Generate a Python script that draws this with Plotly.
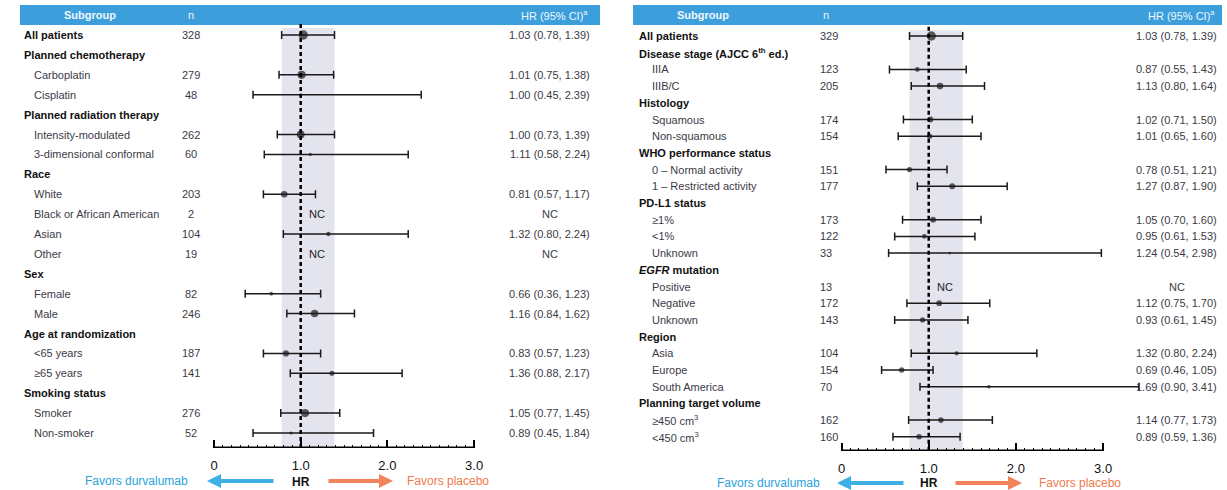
import plotly.graph_objects as go

W, H = 1227, 490

# ---------------- Left panel data ----------------
l_labels = ["All patients", "Planned chemotherapy", "Carboplatin", "Cisplatin",
            "Planned radiation therapy", "Intensity-modulated", "3-dimensional conformal",
            "Race", "White", "Black or African American", "Asian", "Other",
            "Sex", "Female", "Male",
            "Age at randomization", "&lt;65 years", "≥65 years",
            "Smoking status", "Smoker", "Non-smoker"]
l_group = [0, 1, 0, 0, 1, 0, 0, 1, 0, 0, 0, 0, 1, 0, 0, 1, 0, 0, 1, 0, 0]
l_n = [328, None, 279, 48, None, 262, 60, None, 203, 2, 104, 19, None, 82, 246,
       None, 187, 141, None, 276, 52]
l_hr = [1.03, None, 1.01, 1.00, None, 1.00, 1.11, None, 0.81, None, 1.32, None,
        None, 0.66, 1.16, None, 0.83, 1.36, None, 1.05, 0.89]
l_lo = [0.78, None, 0.75, 0.45, None, 0.73, 0.58, None, 0.57, None, 0.80, None,
        None, 0.36, 0.84, None, 0.57, 0.88, None, 0.77, 0.45]
l_hi = [1.39, None, 1.38, 2.39, None, 1.39, 2.24, None, 1.17, None, 2.24, None,
        None, 1.23, 1.62, None, 1.23, 2.17, None, 1.45, 1.84]

# ---------------- Right panel data ----------------
r_labels = ["All patients", "Disease stage (AJCC 6<sup>th</sup> ed.)", "IIIA", "IIIB/C",
            "Histology", "Squamous", "Non-squamous",
            "WHO performance status", "0 – Normal activity", "1 – Restricted activity",
            "PD-L1 status", "≥1%", "&lt;1%", "Unknown",
            "<i>EGFR</i> mutation", "Positive", "Negative", "Unknown",
            "Region", "Asia", "Europe", "South America",
            "Planning target volume", "≥450 cm<sup>3</sup>", "&lt;450 cm<sup>3</sup>"]
r_group = [0, 1, 0, 0, 1, 0, 0, 1, 0, 0, 1, 0, 0, 0, 1, 0, 0, 0, 1, 0, 0, 0, 1, 0, 0]
r_n = [329, None, 123, 205, None, 174, 154, None, 151, 177, None, 173, 122, 33,
       None, 13, 172, 143, None, 104, 154, 70, None, 162, 160]
r_hr = [1.03, None, 0.87, 1.13, None, 1.02, 1.01, None, 0.78, 1.27, None, 1.05, 0.95,
        1.24, None, None, 1.12, 0.93, None, 1.32, 0.69, 1.69, None, 1.14, 0.89]
r_lo = [0.78, None, 0.55, 0.80, None, 0.71, 0.65, None, 0.51, 0.87, None, 0.70, 0.61,
        0.54, None, None, 0.75, 0.61, None, 0.80, 0.46, 0.90, None, 0.77, 0.59]
r_hi = [1.39, None, 1.43, 1.64, None, 1.50, 1.60, None, 1.21, 1.90, None, 1.60, 1.53,
        2.98, None, None, 1.70, 1.45, None, 2.24, 1.05, 3.41, None, 1.73, 1.36]

tick_vals = [0, 1, 2, 3]
tick_text = ["0", "1.0", "2.0", "3.0"]

HEADER_BLUE = "#3c9fdc"
ARROW_BLUE = "#3fb0e6"
ARROW_ORANGE = "#f2845c"
BAND = "#e4e4ef"
ITEM_COLOR = "#3c3a46"
FONT = "Liberation Sans, Arial, sans-serif"


def px(x):
    return x / W


def py(y):
    return 1 - y / H


fig = go.Figure()
annotations = []
shapes = []

panels = [
    dict(labels=l_labels, group=l_group, n=l_n, hr=l_hr, lo=l_lo, hi=l_hi,
         xa="x", ya="y", left=20, right=600, lab_x=22, ind_x=32,
         n_x=191, n_anchor="center", hr_x=592, nc_x=1.19,
         row0=35, step=19.9, axis_y=448,
         xr=[-0.5, 3.5], x0px=214, unit=86.7,
         fav_l=190, arrow_l=(275, 207), hr_lbl=301, arrow_r=(327, 393), fav_r=405,
         arrow_y=481, hr_y=482),
    dict(labels=r_labels, group=r_group, n=r_n, hr=r_hr, lo=r_lo, hi=r_hi,
         xa="x2", ya="y2", left=633, right=1222, lab_x=637, ind_x=650,
         n_x=818, n_anchor="left", hr_x=1219, nc_x=1.19,
         row0=36, step=16.7, axis_y=451,
         xr=[-0.5, 3.6], x0px=841.5, unit=87.2,
         fav_l=822, arrow_l=(905, 837), hr_lbl=929, arrow_r=(954, 1022), fav_r=1037,
         arrow_y=483, hr_y=483),
]

layout_axes = {}
for k, p in enumerate(panels):
    sfx = "" if k == 0 else "2"
    nrow = len(p["labels"])
    rows = list(range(nrow))

    # axis geometry: map data range to pixel domain
    d0 = p["x0px"] + p["unit"] * p["xr"][0]
    d1 = p["x0px"] + p["unit"] * p["xr"][1]
    y_bot = (p["axis_y"] - p["row0"]) / p["step"]
    y_top = -p["row0"] / p["step"]

    layout_axes["xaxis" + sfx] = dict(
        domain=[px(d0), px(d1)], range=p["xr"], anchor="y" + sfx,
        showgrid=False, zeroline=False, showline=False,
        tickvals=tick_vals, ticktext=tick_text, ticks="inside", ticklen=8,
        tickwidth=2, tickcolor="black", ticklabelstandoff=8,
        tickfont=dict(family=FONT, size=13, color="#111"),
        minor=dict(tickvals=[i / 10 for i in range(1, 30) if i % 10],
                   ticks="inside", ticklen=3, tickwidth=1, tickcolor="black"),
    )
    layout_axes["yaxis" + sfx] = dict(
        domain=[1 - p["axis_y"] / H, 1], range=[y_bot, y_top], anchor="x" + sfx,
        visible=False, showgrid=False, zeroline=False,
    )

    # header bar
    shapes.append(dict(type="rect", xref="paper", yref="paper",
                       x0=px(p["left"]), x1=px(p["right"]), y0=py(25), y1=py(5),
                       fillcolor=HEADER_BLUE, line=dict(width=0), layer="below"))
    hdr_font = dict(family=FONT, size=11, color="#eef7fd")
    annotations += [
        dict(text="<b>Subgroup</b>", x=px(p["left"] + 70), y=py(15), xref="paper", yref="paper",
             showarrow=False, xanchor="center", yanchor="middle", font=hdr_font),
        dict(text="n", x=px(p["n_x"] + (0 if k == 0 else 8)), y=py(15), xref="paper", yref="paper",
             showarrow=False, xanchor="center", yanchor="middle", font=hdr_font),
        dict(text="HR (95% CI)<sup>a</sup>", x=px(p["hr_x"] - 2), y=py(15), xref="paper",
             yref="paper", showarrow=False, xanchor="right", yanchor="middle", font=hdr_font),
    ]

    # overall CI band and reference line
    shapes.append(dict(type="rect", xref=p["xa"], yref=p["ya"],
                       x0=p["lo"][0], x1=p["hi"][0], y0=-0.35, y1=y_bot,
                       fillcolor=BAND, line=dict(width=0), layer="below"))
    shapes.append(dict(type="line", xref=p["xa"], yref=p["ya"], x0=1, x1=1,
                       y0=-0.55, y1=y_bot,
                       line=dict(color="black", width=2.5, dash="4px,3px")))
    # axis baseline from 0 to 3
    shapes.append(dict(type="line", xref=p["xa"], yref=p["ya"], x0=0, x1=3,
                       y0=y_bot, y1=y_bot, line=dict(color="black", width=3)))

    # row texts
    for i in rows:
        lab = p["labels"][i]
        bold = p["group"][i] == 1 or i == 0
        annotations.append(dict(
            text=f"<b>{lab}</b>" if bold else lab,
            x=px(p["lab_x"] if bold else p["ind_x"]), y=i, xref="paper", yref=p["ya"],
            showarrow=False, xanchor="left", yanchor="middle",
            font=dict(family=FONT, size=11, color="#111" if bold else ITEM_COLOR)))
        if p["n"][i] is not None:
            annotations.append(dict(
                text=str(p["n"][i]), x=px(p["n_x"]), y=i, xref="paper", yref=p["ya"],
                showarrow=False, xanchor=p["n_anchor"], yanchor="middle",
                font=dict(family=FONT, size=11, color=ITEM_COLOR)))
            if p["hr"][i] is None:
                annotations.append(dict(
                    text="NC", x=p["nc_x"], y=i, xref=p["xa"], yref=p["ya"],
                    showarrow=False, xanchor="center", yanchor="middle",
                    font=dict(family=FONT, size=11, color="#222")))
                annotations.append(dict(
                    text="NC", x=px(p["hr_x"] - 42), y=i, xref="paper", yref=p["ya"],
                    showarrow=False, xanchor="center", yanchor="middle",
                    font=dict(family=FONT, size=11, color=ITEM_COLOR)))
            else:
                annotations.append(dict(
                    text=f"{p['hr'][i]:.2f} ({p['lo'][i]:.2f}, {p['hi'][i]:.2f})",
                    x=px(p["hr_x"]), y=i, xref="paper", yref=p["ya"],
                    showarrow=False, xanchor="right", yanchor="middle",
                    font=dict(family=FONT, size=11, color=ITEM_COLOR)))

    # point estimates with confidence intervals
    xs, ys, plus, minus, sizes = [], [], [], [], []
    for i in rows:
        if p["hr"][i] is None:
            continue
        xs.append(p["hr"][i])
        ys.append(i)
        plus.append(p["hi"][i] - p["hr"][i])
        minus.append(p["hr"][i] - p["lo"][i])
        sizes.append(2 + p["n"][i] / 45)
    fig.add_trace(go.Scatter(
        x=xs, y=ys, xaxis=p["xa"], yaxis=p["ya"], mode="markers",
        marker=dict(color="#1a1a1a", size=sizes, line=dict(width=0)),
        error_x=dict(type="data", symmetric=False, array=plus, arrayminus=minus,
                     color="#1a1a1a", thickness=1.5, width=4),
        showlegend=False, hoverinfo="skip"))

    # direction legend
    ay = py(p["arrow_y"])
    annotations += [
        dict(text="Favors durvalumab", x=px(p["fav_l"]), y=ay, xref="paper", yref="paper",
             showarrow=False, xanchor="right", yanchor="middle",
             font=dict(family=FONT, size=12, color="#2aa3dc")),
        dict(text="", x=px(p["arrow_l"][1]), y=ay,
             ax=p["arrow_l"][0] - p["arrow_l"][1], ay=0,
             xref="paper", yref="paper", axref="pixel", ayref="pixel",
             showarrow=True, arrowhead=2, arrowsize=0.7, arrowwidth=4, arrowcolor=ARROW_BLUE),
        dict(text="<b>HR</b>", x=px(p["hr_lbl"]), y=py(p["hr_y"]), xref="paper", yref="paper",
             showarrow=False, xanchor="center", yanchor="middle",
             font=dict(family=FONT, size=12, color="#111")),
        dict(text="", x=px(p["arrow_r"][1]), y=ay,
             ax=p["arrow_r"][0] - p["arrow_r"][1], ay=0,
             xref="paper", yref="paper", axref="pixel", ayref="pixel",
             showarrow=True, arrowhead=2, arrowsize=0.7, arrowwidth=4, arrowcolor=ARROW_ORANGE),
        dict(text="Favors placebo", x=px(p["fav_r"]), y=ay, xref="paper", yref="paper",
             showarrow=False, xanchor="left", yanchor="middle",
             font=dict(family=FONT, size=12, color="#f07a4c")),
    ]

fig.update_layout(
    width=W, height=H, margin=dict(l=0, r=0, t=0, b=0),
    paper_bgcolor="white", plot_bgcolor="rgba(0,0,0,0)",
    shapes=shapes, annotations=annotations, showlegend=False,
    font=dict(family=FONT),
    **layout_axes,
)

fig.write_html("out.html")
